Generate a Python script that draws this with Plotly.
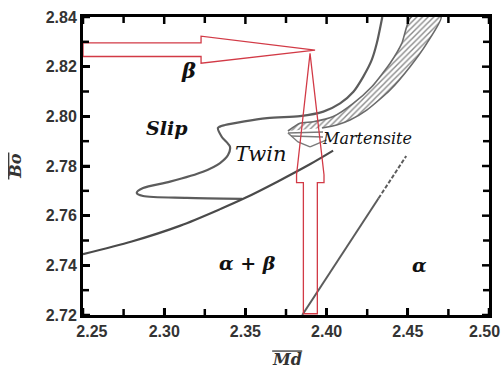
import plotly.graph_objects as go

# ---- data ----
x_range = [2.25, 2.50]
y_range = [2.72, 2.84]
x_ticks = [2.25, 2.30, 2.35, 2.40, 2.45, 2.50]
x_ticktext = ["\u00a0\u00a0\u00a0\u00a02.25", "2.30", "2.35", "2.40", "2.45", "2.50\u00a0\u00a0"]
x_minor = [2.275, 2.325, 2.375, 2.425, 2.475]
y_ticks = [2.72, 2.74, 2.76, 2.78, 2.80, 2.82, 2.84]
y_ticktext = ["2.72", "2.74", "2.76", "2.78", "2.80", "2.82", "2.84"]
y_minor = [2.73, 2.75, 2.77, 2.79, 2.81, 2.83]

# slip / twin boundary (upper branch + loop)
loop_x = [2.4343, 2.4309, 2.4278, 2.4226, 2.4165, 2.4083, 2.398, 2.3836, 2.3633, 2.3374,
          2.3331, 2.3354, 2.3405, 2.3393, 2.3344, 2.3239, 2.3036, 2.287, 2.2831, 2.287,
          2.3139, 2.3480]
loop_y = [2.84, 2.8294, 2.8227, 2.816, 2.8099, 2.8052, 2.8019, 2.8001, 2.7993, 2.7965,
          2.7953, 2.7918, 2.7878, 2.7844, 2.7812, 2.7777, 2.7737, 2.7711, 2.7692, 2.7679,
          2.7672, 2.7668]

# beta / alpha+beta boundary
lower_x = [2.25, 2.28, 2.31, 2.335, 2.35, 2.37, 2.39, 2.404]
lower_y = [2.7445, 2.7496, 2.7560, 2.7628, 2.7672, 2.7738, 2.7808, 2.7862]

# martensite band
band_left_x = [2.3762, 2.3836, 2.3918, 2.4041, 2.4164, 2.4278, 2.4391, 2.4463, 2.452]
band_left_y = [2.7941, 2.7972, 2.7978, 2.7999, 2.8052, 2.8119, 2.8214, 2.8294, 2.84]
band_right_x = [2.4705, 2.4617, 2.4514, 2.4391, 2.4247, 2.4144, 2.4062, 2.3972]
band_right_y = [2.84, 2.8294, 2.82, 2.8106, 2.8025, 2.7985, 2.7965, 2.7953]

# martensite wedge strokes
wedge_x = [2.3762, 2.3978, None, 2.3781, 2.3978, None, 2.3762, 2.3824, 2.3898, None, 2.3898, 2.4000]
wedge_y = [2.7933, 2.7937, None, 2.7921, 2.7917, None, 2.7933, 2.7897, 2.7877, None, 2.7877, 2.7905]

# alpha / alpha+beta boundary
alpha_solid_x = [2.385, 2.432]
alpha_solid_y = [2.72, 2.767]
alpha_dash_x = [2.432, 2.449]
alpha_dash_y = [2.767, 2.784]

# red arrows
harrow_x = [2.25, 2.3227, 2.3227, 2.3929, 2.3227, 2.3227, 2.25, 2.25]
harrow_y = [2.8296, 2.8296, 2.8323, 2.8267, 2.8214, 2.8241, 2.8241, 2.8296]
varrow_x = [2.3857, 2.3857, 2.3815, 2.3815, 2.3898, 2.3984, 2.3984, 2.3943, 2.3943, 2.3857]
varrow_y = [2.7205, 2.7733, 2.7733, 2.7765, 2.8254, 2.7765, 2.7733, 2.7733, 2.7205, 2.7205]

labels = [
    (2.315, 2.8185, "<b><i>β</i></b>", 21),
    (2.302, 2.7955, "<b><i>Slip</i></b>", 19),
    (2.359, 2.7850, "<i>Twin</i>", 21),
    (2.425, 2.7910, "<i>Martensite</i>", 16),
    (2.351, 2.7410, "<b><i>α + β</i></b>", 19),
    (2.457, 2.7400, "<b><i>α</i></b>", 19),
]

CURVE = "#5c5c5c"
RED = "#d23a46"

# plot area size in pixels (from the layout below) -> tick length in data units
PLOT_W, PLOT_H = 502 - 83 - 13, 372 - 17 - 57
dx_px = (x_range[1] - x_range[0]) / PLOT_W
dy_px = (y_range[1] - y_range[0]) / PLOT_H

fig = go.Figure()

fig.add_trace(go.Scatter(
    x=band_left_x + band_right_x, y=band_left_y + band_right_y,
    mode="lines", fill="toself", fillcolor="rgba(200,200,200,0.5)",
    fillpattern=dict(shape="/", fgcolor="#8a8a8a", size=4, solidity=0.35),
    line=dict(color="#6a6a6a", width=1.6, shape="spline", smoothing=0.6),
    hoverinfo="skip", showlegend=False))
fig.add_trace(go.Scatter(x=wedge_x, y=wedge_y, mode="lines",
                         line=dict(color="#7a7a7a", width=1.4),
                         hoverinfo="skip", showlegend=False))
fig.add_trace(go.Scatter(x=loop_x, y=loop_y, mode="lines",
                         line=dict(color=CURVE, width=2.2, shape="spline", smoothing=0.8),
                         hoverinfo="skip", showlegend=False))
fig.add_trace(go.Scatter(x=lower_x, y=lower_y, mode="lines",
                         line=dict(color="#4a4a4a", width=2.2, shape="spline", smoothing=0.8),
                         hoverinfo="skip", showlegend=False))
fig.add_trace(go.Scatter(x=alpha_solid_x, y=alpha_solid_y, mode="lines",
                         line=dict(color=CURVE, width=2),
                         hoverinfo="skip", showlegend=False))
fig.add_trace(go.Scatter(x=alpha_dash_x, y=alpha_dash_y, mode="lines",
                         line=dict(color=CURVE, width=2, dash="4px,2px"),
                         hoverinfo="skip", showlegend=False))
fig.add_trace(go.Scatter(x=harrow_x, y=harrow_y, mode="lines",
                         line=dict(color=RED, width=1.3),
                         hoverinfo="skip", showlegend=False))
fig.add_trace(go.Scatter(x=varrow_x, y=varrow_y, mode="lines",
                         line=dict(color=RED, width=1.3),
                         hoverinfo="skip", showlegend=False))

# inward tick marks on all four sides, built from the tick arrays
tx, ty = [], []
for v, ln in [(v, 7) for v in x_ticks] + [(v, 6) for v in x_minor]:
    tx += [v, v, None, v, v, None]
    ty += [y_range[0], y_range[0] + ln * dy_px, None, y_range[1], y_range[1] - ln * dy_px, None]
for v, ln in [(v, 7) for v in y_ticks] + [(v, 6) for v in y_minor]:
    tx += [x_range[0], x_range[0] + ln * dx_px, None, x_range[1], x_range[1] - ln * dx_px, None]
    ty += [v, v, None, v, v, None]
fig.add_trace(go.Scatter(x=tx, y=ty, mode="lines", line=dict(color="black", width=2.5),
                         cliponaxis=False, hoverinfo="skip", showlegend=False))

for lx, ly, txt, sz in labels:
    fig.add_annotation(x=lx, y=ly, text=txt, showarrow=False,
                       font=dict(family="DejaVu Serif", size=sz, color="#111"))

# axis titles with overlines
fig.add_annotation(xref="paper", yref="paper", x=0.5025, y=-0.148, xanchor="center", yanchor="middle",
                   text="<b><i>Md</i></b>", showarrow=False,
                   font=dict(family="DejaVu Serif", size=16, color="#333"))
fig.add_annotation(xref="paper", yref="paper", x=-0.168, y=0.5, xanchor="center", yanchor="middle",
                   text="<b><i>Bo</i></b>", textangle=-90, showarrow=False,
                   font=dict(family="DejaVu Serif", size=16, color="#333"))
fig.add_shape(type="line", xref="paper", yref="paper", x0=0.466, x1=0.540, y0=-0.121, y1=-0.121,
              line=dict(color="#333", width=1.3))
fig.add_shape(type="line", xref="paper", yref="paper", x0=-0.183, x1=-0.183, y0=0.455, y1=0.545,
              line=dict(color="#333", width=1.3))

tickfont = dict(family="Liberation Sans", size=16, color="#333", weight="bold")

fig.update_layout(
    template="none", width=502, height=372, margin=dict(l=83, r=13, t=17, b=57),
    paper_bgcolor="white", plot_bgcolor="white", showlegend=False,
    xaxis=dict(range=x_range, tickmode="array", tickvals=x_ticks, ticktext=x_ticktext,
               ticks="inside", ticklen=7, tickwidth=2.5, tickcolor="black",
               showline=True, linecolor="black", linewidth=3, mirror=True,
               showgrid=False, zeroline=False, tickfont=tickfont, ticklabeloverflow="allow"),
    yaxis=dict(range=y_range, tickmode="array", tickvals=y_ticks, ticktext=y_ticktext,
               ticks="inside", ticklen=7, tickwidth=2.5, tickcolor="black",
               showline=True, linecolor="black", linewidth=3, mirror=True,
               showgrid=False, zeroline=False, tickfont=tickfont),
)

fig.write_html("out.html")
